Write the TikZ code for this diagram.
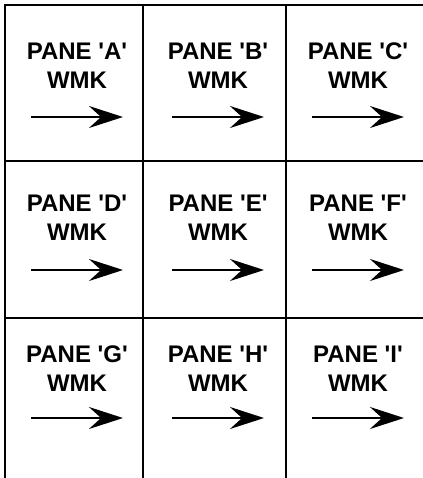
\documentclass[tikz,border=0pt]{standalone}
\usepackage{fontspec}
\setmainfont{Liberation Sans}
\usetikzlibrary{arrows.meta}

\begin{document}
\begin{tikzpicture}[x=0.5pt,y=-0.5pt,
  font=\bfseries\fontsize{12}{14.5}\selectfont,
  every node/.style={align=center},
  gridline/.style={line width=1pt},
  wmk/.style={line width=1pt,-{Stealth[length=17pt,width=11pt,inset=6pt]}}]
  \useasboundingbox (0,0) rectangle (423,478);
  % window grid (open at right and bottom)
  \draw[gridline] (5,478) -- (5,5) -- (423,5);
  \foreach \x in {143,286} \draw[gridline] (\x,5) -- (\x,478);
  \foreach \y in {161,318} \draw[gridline] (5,\y) -- (423,\y);
  % panes
  \foreach \l/\x/\y/\a in {A/77/66/117,B/218/66/117,C/358/66/117,
                           D/77/218/270,E/218/218/270,F/358/218/270,
                           G/77/369/418,H/218/369/418,I/358/369/418}{
    \node (pane\l) at (\x,\y) {PANE \textquotesingle\l\textquotesingle\\WMK};
    \coordinate (tail\l) at (\x-46,\a);
    \coordinate (head\l) at (\x+46,\a);
    \draw[wmk] (tail\l) -- (head\l);
  }
\end{tikzpicture}
\end{document}
